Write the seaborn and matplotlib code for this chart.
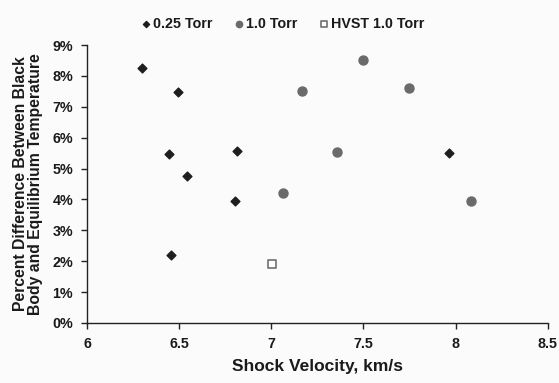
import matplotlib
matplotlib.use("Agg")
import matplotlib.pyplot as plt
import matplotlib.ticker as mticker
import seaborn as sns
import pandas as pd

# Measured shock velocities (km/s) and temperature differences (%)
v_025 = [6.30, 6.495, 6.446, 6.815, 6.544, 6.804, 6.454, 7.963]
d_025 = [8.25, 7.49, 5.47, 5.57, 4.76, 3.94, 2.20, 5.51]

v_10 = [7.164, 7.356, 7.063, 7.497, 7.745, 8.084]
d_10 = [7.52, 5.53, 4.21, 8.53, 7.60, 3.95]

v_hvst = [7.003]
d_hvst = [1.91]

series_names = ["0.25 Torr", "1.0 Torr", "HVST 1.0 Torr"]

df = pd.concat([
    pd.DataFrame({"v": v_025, "d": d_025, "series": series_names[0]}),
    pd.DataFrame({"v": v_10, "d": d_10, "series": series_names[1]}),
    pd.DataFrame({"v": v_hvst, "d": d_hvst, "series": series_names[2]}),
], ignore_index=True)

sns.set_style("ticks")
plt.rcParams["font.family"] = ["Liberation Sans", "DejaVu Sans"]

fig = plt.figure(figsize=(5.59, 3.83), dpi=100)
fig.patch.set_facecolor("#fbfbfb")
ax = fig.add_axes([0.1556, 0.1567, 0.8244, 0.7258])
ax.set_facecolor("#fbfbfb")

styles = {
    series_names[0]: dict(marker="D", s=20, color="#1e1e1e", edgecolor="#1e1e1e", lw=1.0),
    series_names[1]: dict(marker="o", s=42, color="#6a6a6a", edgecolor="#6a6a6a", lw=1.0),
    series_names[2]: dict(marker="s", s=40, color="white", edgecolor="#7a7a7a", lw=1.3),
}
for name in series_names:
    sub = df[df["series"] == name]
    st = styles[name]
    sns.scatterplot(data=sub, x="v", y="d", ax=ax, marker=st["marker"], s=st["s"],
                    color=st["color"], edgecolor=st["edgecolor"], linewidth=st["lw"],
                    label=name, zorder=3)

ax.set_xlim(6, 8.5)
ax.set_ylim(0, 9)
ax.set_xticks([6, 6.5, 7, 7.5, 8, 8.5])
ax.set_xticklabels(["6", "6.5", "7", "7.5", "8", "8.5"])
ax.set_yticks(range(0, 10))
ax.yaxis.set_major_formatter(mticker.FuncFormatter(lambda y, _: f"{int(y)}%"))

for side in ("top", "right"):
    ax.spines[side].set_visible(False)
for side in ("left", "bottom"):
    ax.spines[side].set_color("#222222")
    ax.spines[side].set_linewidth(1.0)
ax.tick_params(axis="both", direction="out", length=4, width=1, color="#222222",
               labelsize=10.3, labelcolor="#1a1a1a", pad=6)
for lbl in ax.get_xticklabels() + ax.get_yticklabels():
    lbl.set_fontweight("bold")

ax.set_xlabel("Shock Velocity, km/s", fontsize=12.5, fontweight="bold", color="#1a1a1a", labelpad=6)
ax.set_ylabel("Percent Difference Between Black\nBody and Equilibrium Temperature",
              fontsize=11.3, fontweight="bold", color="#1a1a1a", labelpad=7, linespacing=1.0)

leg = ax.legend(loc="lower center", bbox_to_anchor=(0.425, 1.005), ncol=3, frameon=False,
                handlelength=0.7, handletextpad=0.15, columnspacing=1.5, markerscale=0.7,
                prop={"size": 10.3, "weight": "bold"})
for t in leg.get_texts():
    t.set_color("#1a1a1a")

fig.savefig("out.png", dpi=100, facecolor=fig.get_facecolor())
